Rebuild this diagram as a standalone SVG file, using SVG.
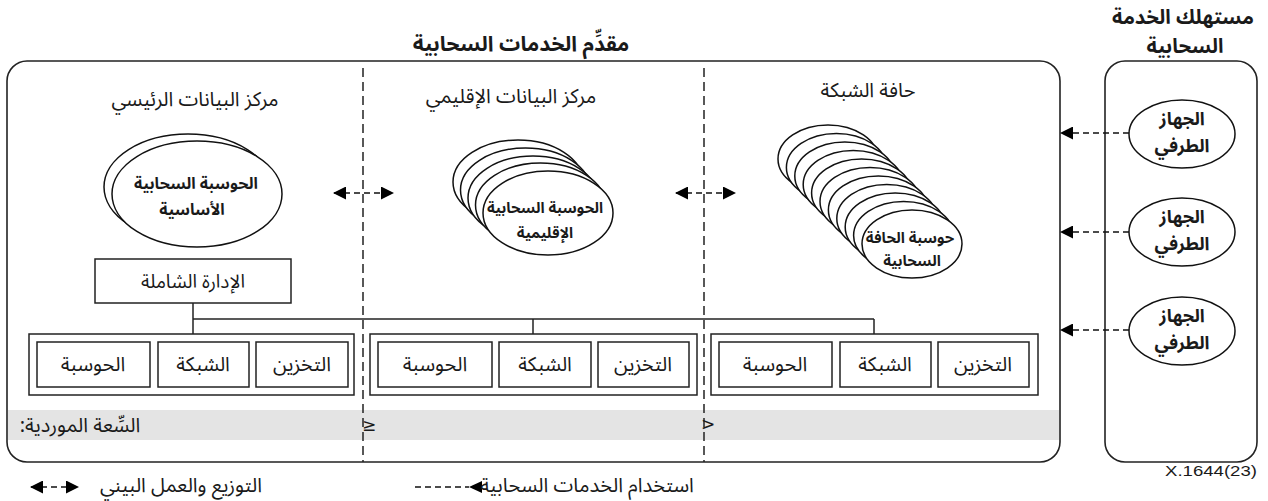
<svg xmlns="http://www.w3.org/2000/svg" width="1268" height="501" viewBox="0 0 1268 501">
<style>
text{font-family:"Noto Sans Arabic","Noto Naskh Arabic","DejaVu Sans",sans-serif;fill:#1a1a1a;text-anchor:middle;direction:rtl}
.t{font-size:21px;font-weight:bold}
.h{font-size:20px}
.b{font-size:16px;font-weight:bold}
.l{font-size:20px}
.sym{font-family:"DejaVu Sans",sans-serif;font-size:17px;direction:ltr;unicode-bidi:bidi-override}
.frame{fill:none;stroke:#222;stroke-width:1.6}
.box{fill:#fff;stroke:#222;stroke-width:1.5}
.ell{fill:#fff;stroke:#111;stroke-width:1.5}
.div{stroke:#222;stroke-width:1.5;stroke-dasharray:9 5;fill:none}
.conn{stroke:#222;stroke-width:1.5;fill:none}
.da{stroke:#111;stroke-width:1.5;stroke-dasharray:6 4;fill:none}
</style>
<defs>
<marker id="ah" markerUnits="userSpaceOnUse" markerWidth="13" markerHeight="13" refX="12" refY="6.5" orient="auto-start-reverse">
<path d="M0,0 L13,6.5 L0,13 z" fill="#000"/>
</marker>
</defs>

<!-- titles -->
<text class="t" x="521" y="51">مقدِّم الخدمات السحابية</text>
<text class="t" x="1183" y="24" style="font-size:20px">مستهلك الخدمة</text>
<text class="t" x="1185" y="53" style="font-size:20px">السحابية</text>

<!-- frames -->
<g id="provider">
<rect x="7" y="61" width="1053" height="401" rx="20" ry="20" fill="#fff" stroke="none"/>
<rect x="8" y="410" width="1051" height="30" fill="#e4e4e4"/>
<rect class="frame" x="7" y="61" width="1053" height="401" rx="20" ry="20"/>
<text class="h" x="195" y="106">مركز البيانات الرئيسي</text>
<text class="h" x="511" y="103">مركز البيانات الإقليمي</text>
<text class="h" x="868" y="97">حافة الشبكة</text>
<text class="l" x="80" y="432">السِّعة الموردية:</text>
</g>
<g id="consumer">
<rect class="frame" x="1105" y="61" width="152" height="401" rx="20" ry="20"/>
</g>

<!-- dividers -->
<line class="div" x1="363" y1="68" x2="363" y2="462"/>
<line class="div" x1="704" y1="68" x2="704" y2="462"/>
<text class="sym" x="369" y="431">≥</text>
<text class="sym" x="708" y="430">&gt;</text>

<!-- core cloud -->
<g id="core">
<ellipse class="ell" cx="188" cy="187" rx="84" ry="53"/>
<ellipse class="ell" cx="197" cy="194" rx="85" ry="53"/>
<text class="b" x="196" y="189">الحوسبة السحابية</text>
<text class="b" x="192" y="215">الأساسية</text>
</g>

<!-- regional cloud -->
<g id="regional">
<ellipse class="ell" cx="518" cy="182" rx="65" ry="42"/>
<ellipse class="ell" cx="525.5" cy="190" rx="65" ry="42"/>
<ellipse class="ell" cx="533" cy="198" rx="65" ry="42"/>
<ellipse class="ell" cx="540.5" cy="205" rx="65" ry="42"/>
<ellipse class="ell" cx="548" cy="213" rx="65" ry="42"/>
<text class="b" x="545" y="213" style="font-size:15px">الحوسبة السحابية</text>
<text class="b" x="545" y="238" style="font-size:15px">الإقليمية</text>
</g>

<!-- edge cloud -->
<g id="edge">
<ellipse class="ell" cx="828" cy="159" rx="50" ry="34"/>
<ellipse class="ell" cx="836.4" cy="167.5" rx="50" ry="34"/>
<ellipse class="ell" cx="844.8" cy="176" rx="50" ry="34"/>
<ellipse class="ell" cx="853.2" cy="184.5" rx="50" ry="34"/>
<ellipse class="ell" cx="861.6" cy="193" rx="50" ry="34"/>
<ellipse class="ell" cx="870" cy="201.5" rx="50" ry="34"/>
<ellipse class="ell" cx="878.4" cy="210" rx="50" ry="34"/>
<ellipse class="ell" cx="886.8" cy="218.5" rx="50" ry="34"/>
<ellipse class="ell" cx="895.2" cy="227" rx="50" ry="34"/>
<ellipse class="ell" cx="903.6" cy="235.5" rx="50" ry="34"/>
<ellipse class="ell" cx="912" cy="244" rx="50" ry="34"/>
<text class="b" x="910" y="243" style="font-size:15px">حوسبة الحافة</text>
<text class="b" x="912" y="266" style="font-size:15px">السحابية</text>
</g>

<!-- management -->
<g id="management">
<rect class="box" x="95" y="259" width="196" height="44"/>
<text class="l" x="193" y="288" style="font-size:19px">الإدارة الشاملة</text>
</g>

<!-- resource groups -->
<g id="group-core">
<rect class="box" x="29" y="334" width="325" height="61"/>
<rect class="box" x="37" y="342" width="113" height="45"/><text class="l" x="93" y="371">الحوسبة</text>
<rect class="box" x="158" y="342" width="91" height="45"/><text class="l" x="203" y="371">الشبكة</text>
<rect class="box" x="256" y="342" width="92" height="45"/><text class="l" x="302" y="371">التخزين</text>
</g>
<g id="group-regional">
<rect class="box" x="370" y="334" width="327" height="61"/>
<rect class="box" x="378" y="342" width="114" height="45"/><text class="l" x="435" y="371">الحوسبة</text>
<rect class="box" x="499" y="342" width="92" height="45"/><text class="l" x="545" y="371">الشبكة</text>
<rect class="box" x="598" y="342" width="91" height="45"/><text class="l" x="643" y="371">التخزين</text>
</g>
<g id="group-edge">
<rect class="box" x="711" y="334" width="327" height="61"/>
<rect class="box" x="719" y="342" width="113" height="45"/><text class="l" x="775" y="371">الحوسبة</text>
<rect class="box" x="840" y="342" width="91" height="45"/><text class="l" x="885" y="371">الشبكة</text>
<rect class="box" x="938" y="342" width="91" height="45"/><text class="l" x="983" y="371">التخزين</text>
</g>

<!-- end devices -->
<g id="device1">
<ellipse class="ell" cx="1182" cy="134" rx="53" ry="34"/>
<text class="b" x="1182" y="125" style="font-size:18px">الجهاز</text>
<text class="b" x="1182" y="152" style="font-size:18px">الطرفي</text>
</g>
<g id="device2">
<ellipse class="ell" cx="1182" cy="232" rx="53" ry="34"/>
<text class="b" x="1182" y="223" style="font-size:18px">الجهاز</text>
<text class="b" x="1182" y="250" style="font-size:18px">الطرفي</text>
</g>
<g id="device3">
<ellipse class="ell" cx="1182" cy="331" rx="53" ry="34"/>
<text class="b" x="1182" y="322" style="font-size:18px">الجهاز</text>
<text class="b" x="1182" y="349" style="font-size:18px">الطرفي</text>
</g>

<!-- connectors -->
<g id="connectors">
<polyline class="conn" points="193,303 193,334"/>
<polyline class="conn" points="193,319 874,319"/>
<polyline class="conn" points="533,319 533,334"/>
<polyline class="conn" points="874,319 874,334"/>
<line class="da" x1="334" y1="193" x2="393" y2="193" marker-start="url(#ah)" marker-end="url(#ah)"/>
<line class="da" x1="676" y1="193" x2="735" y2="193" marker-start="url(#ah)" marker-end="url(#ah)"/>
<line class="da" x1="1129" y1="133" x2="1061" y2="133" marker-end="url(#ah)"/>
<line class="da" x1="1129" y1="232" x2="1061" y2="232" marker-end="url(#ah)"/>
<line class="da" x1="1129" y1="330" x2="1061" y2="330" marker-end="url(#ah)"/>
</g>

<!-- legend -->
<g id="legend">
<line class="da" x1="31" y1="487" x2="78" y2="487" marker-start="url(#ah)" marker-end="url(#ah)"/>
<text class="l" x="181" y="492">التوزيع والعمل البيني</text>
<line class="da" x1="415" y1="487" x2="469" y2="487"/>
<path d="M469,487 L482,481 L482,493 z" fill="#000"/>
<text class="l" x="587" y="492">استخدام الخدمات السحابية</text>
<text x="1211" y="476" textLength="92" lengthAdjust="spacingAndGlyphs" style="font-family:'Liberation Sans',Arial,sans-serif;font-size:15px;direction:ltr">X.1644(23)</text>
</g>
</svg>
